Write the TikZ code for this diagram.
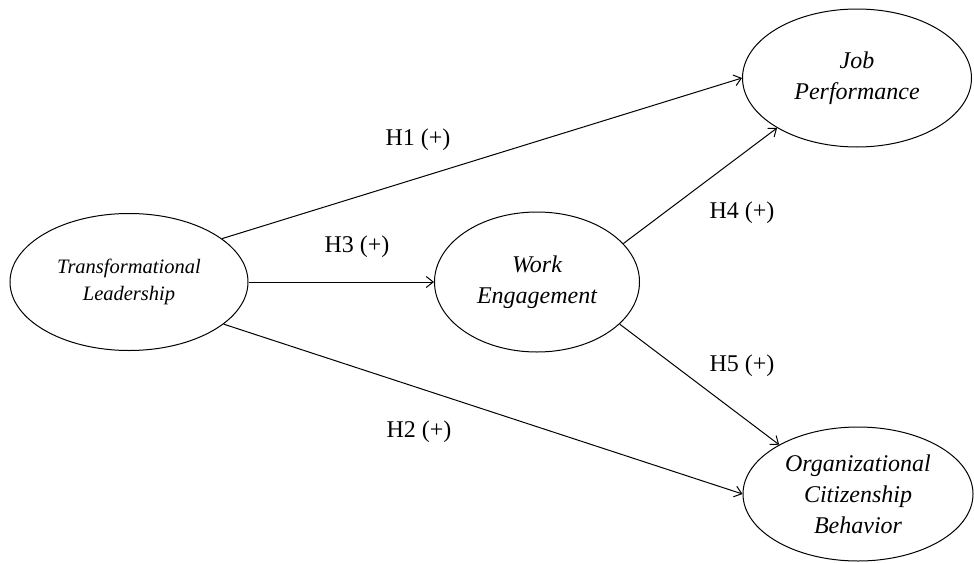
\documentclass[tikz,border=0pt]{standalone}
\usepackage{fontspec}
\setmainfont{Liberation Serif}
\usetikzlibrary{shapes.geometric,arrows.meta}

\tikzset{
  construct/.style={draw=black, line width=1pt, ellipse, inner sep=0pt, align=center,
    font=\fontsize{24}{31}\selectfont\itshape},
  path/.style={draw=black, line width=1pt, -{Straight Barb[length=7pt,width=11pt]}},
  hyp/.style={font=\fontsize{24}{28}\selectfont}
}

\begin{document}
\begin{tikzpicture}[x=1pt,y=-1pt]
\useasboundingbox (0,0) rectangle (974,562);
% constructs
\node[construct, font=\fontsize{20.5}{27}\selectfont\itshape, minimum width=238pt, minimum height=137pt] (tl) at (129,282) {Transformational\\Leadership};
\node[construct, minimum width=205pt, minimum height=140pt] (we) at (537,282) {Work\\Engagement};
\node[construct, minimum width=229pt, minimum height=138pt] (jp) at (857,78) {Job\\Performance};
\node[construct, minimum width=230pt, minimum height=134pt] (ocb) at (858,494) {Organizational\\Citizenship\\Behavior};
% paths
\draw[path] (tl.25) -- (jp.west);
\draw[path] (tl.-24) -- (ocb.west);
\draw[path] (tl.east) -- (we.west);
\draw[path] (we.24) -- (jp.212);
\draw[path] (we.-27) -- (ocb.148);
% hypotheses
\node[hyp] (h1) at (418,140) {H1 (+)};
\node[hyp] (h2) at (419,432) {H2 (+)};
\node[hyp] (h3) at (357,247) {H3 (+)};
\node[hyp] (h4) at (742,213) {H4 (+)};
\node[hyp] (h5) at (742,366) {H5 (+)};
\end{tikzpicture}
\end{document}
